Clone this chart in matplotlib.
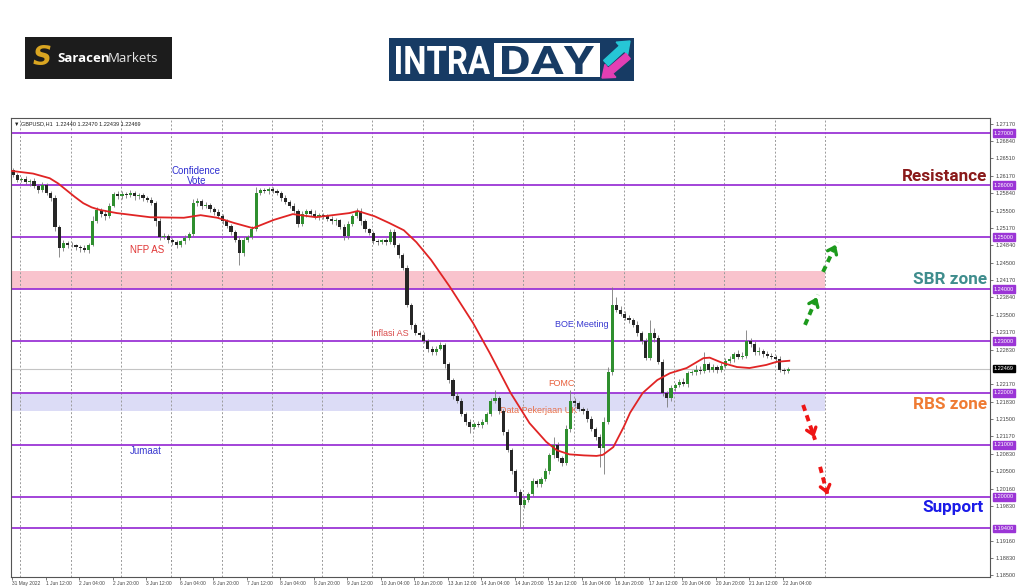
import matplotlib.pyplot as plt
import matplotlib.transforms as mtransforms
from matplotlib.patches import Rectangle, FancyArrow, PathPatch
from matplotlib.textpath import TextPath
from matplotlib.font_manager import FontProperties
import numpy as np

plt.rcParams['font.family'] = 'Liberation Sans'

# ---------------- data (GBPUSD H1, drawn as 2-hour candles) ----------------
first_open = 1.2628
closes = [
    1.2620, 1.2610,
    1.2612, 1.2605, 1.2608, 1.2598, 1.2590, 1.2600, 1.2585, 1.2575, 1.2520, 1.2478, 1.2488, 1.2485,
    1.2484, 1.2480, 1.2478, 1.2475, 1.2485, 1.2530, 1.2552, 1.2545, 1.2540, 1.2560, 1.2582, 1.2578,
    1.2583, 1.2580, 1.2585, 1.2578, 1.2580, 1.2575, 1.2572, 1.2565, 1.2530, 1.2500, 1.2502, 1.2495,
    1.2490, 1.2485, 1.2492, 1.2498, 1.2505, 1.2565, 1.2570, 1.2560, 1.2562, 1.2553, 1.2548, 1.2540,
    1.2530, 1.2522, 1.2510, 1.2495, 1.2470, 1.2495, 1.2500, 1.2515, 1.2585, 1.2590, 1.2588, 1.2592,
    1.2588, 1.2585, 1.2575, 1.2568, 1.2560, 1.2550, 1.2525, 1.2545, 1.2550, 1.2545, 1.2538, 1.2542,
    1.2540, 1.2535, 1.2530, 1.2532, 1.2520, 1.2502, 1.2525, 1.2540, 1.2550, 1.2530, 1.2515, 1.2508,
    1.2492, 1.2490, 1.2494, 1.2490, 1.2510, 1.2485, 1.2465, 1.2440, 1.2370, 1.2330, 1.2315, 1.2312,
    1.2300, 1.2285, 1.2278, 1.2285, 1.2292, 1.2255, 1.2225, 1.2195, 1.2185, 1.2160, 1.2145, 1.2135,
    1.2140, 1.2138, 1.2145, 1.2160, 1.2185, 1.2190, 1.2165, 1.2125, 1.2090, 1.2050, 1.2010, 1.1985,
    1.1995, 1.2005, 1.2030, 1.2025, 1.2035, 1.2050, 1.2080, 1.2100, 1.2075, 1.2065, 1.2130, 1.2185,
    1.2180, 1.2170, 1.2165, 1.2150, 1.2130, 1.2115, 1.2095, 1.2145, 1.2240, 1.2370, 1.2360, 1.2352,
    1.2345, 1.2340, 1.2330, 1.2315, 1.2300, 1.2268, 1.2315, 1.2305, 1.2260, 1.2200, 1.2190, 1.2210,
    1.2215, 1.2222, 1.2218, 1.2238, 1.2240, 1.2245, 1.2242, 1.2255, 1.2245, 1.2250, 1.2245, 1.2252,
    1.2262, 1.2265, 1.2275, 1.2270, 1.2272, 1.2300, 1.2295, 1.2278, 1.2280, 1.2275, 1.2272, 1.2270,
    1.2265, 1.2245, 1.2242, 1.22469,
]
# wick lengths in pips above / below the body
wick_up = [
    5, 4,
    4, 6, 3, 5, 4, 6, 3, 4, 5, 4, 6, 4,
    5, 3, 4, 6, 4, 10, 5, 4, 6, 5, 4, 6,
    5, 4, 6, 3, 5, 4, 3, 5, 4, 6, 5, 4,
    4, 5, 3, 6, 4, 8, 5, 4, 6, 3, 4, 5,
    4, 5, 3, 4, 6, 5, 4, 6, 11, 4, 5, 4,
    5, 4, 3, 5, 4, 6, 4, 5, 3, 4, 6, 4,
    4, 5, 6, 4, 3, 5, 6, 4, 6, 5, 4, 3,
    4, 5, 3, 4, 5, 6, 4, 5, 6, 4, 5, 4,
    5, 4, 6, 5, 6, 4, 5, 4, 6, 5, 4, 5,
    4, 6, 5, 4, 6, 16, 5, 4, 6, 5, 4, 6,
    5, 4, 6, 5, 4, 6, 5, 15, 6, 4, 8, 21,
    6, 5, 4, 6, 5, 4, 6, 8, 10, 34, 15, 8,
    6, 5, 4, 8, 5, 6, 25, 10, 6, 5, 4, 6,
    5, 4, 6, 5, 4, 8, 6, 24, 5, 6, 4, 5,
    5, 6, 4, 8, 6, 21, 6, 5, 8, 4, 6, 5,
    4, 6, 4, 3,
]
wick_dn = [
    4, 5,
    5, 4, 6, 4, 5, 3, 4, 5, 8, 16, 5, 6,
    4, 5, 6, 4, 5, 3, 4, 6, 8, 4, 3, 5,
    4, 5, 3, 6, 4, 5, 4, 3, 8, 5, 4, 6,
    5, 7, 4, 5, 3, 4, 5, 6, 4, 5, 6, 4,
    5, 4, 6, 5, 24, 6, 5, 4, 3, 5, 4, 6,
    4, 5, 6, 4, 5, 4, 5, 4, 6, 5, 4, 6,
    5, 4, 5, 6, 4, 7, 5, 3, 4, 6, 5, 4,
    5, 6, 4, 5, 3, 5, 6, 4, 5, 6, 4, 5,
    4, 6, 5, 4, 3, 6, 5, 6, 4, 5, 6, 12,
    5, 4, 6, 5, 4, 5, 6, 5, 4, 6, 8, 45,
    6, 5, 4, 6, 5, 4, 6, 5, 6, 5, 4, 5,
    5, 4, 6, 5, 4, 6, 37, 50, 5, 6, 5, 4,
    5, 6, 4, 5, 6, 5, 4, 6, 5, 6, 17, 5,
    6, 4, 5, 6, 4, 5, 6, 4, 5, 4, 6, 5,
    4, 5, 6, 4, 5, 4, 6, 5, 4, 6, 5, 4,
    6, 5, 6, 4,
]

# moving average (hour index, price)
ma_hours = [0, 10, 18, 22, 26, 30, 34, 38, 42, 50, 66, 82, 90, 98, 106, 115, 125, 134, 145,
            161, 165, 173, 180, 187, 193, 200, 209, 220, 228, 238, 247, 255, 260, 266, 273,
            279, 282, 287, 292, 295, 301, 308, 314, 322, 330, 333, 339, 346, 352, 360, 365, 371]
ma_prices = [1.2627, 1.2622, 1.2613, 1.2603, 1.2590, 1.2577, 1.2565, 1.2557, 1.2552, 1.2546,
             1.2538, 1.2537, 1.2542, 1.2537, 1.2527, 1.2517, 1.2533, 1.2544, 1.2538, 1.2546,
             1.2550, 1.2540, 1.2527, 1.2513, 1.2490, 1.2456, 1.2404, 1.2335, 1.2277, 1.2200,
             1.2142, 1.2106, 1.2090, 1.2082, 1.2080, 1.2079, 1.2081, 1.2096, 1.2135, 1.2162,
             1.2200, 1.2225, 1.2238, 1.2248, 1.2267, 1.2268, 1.2258, 1.2250, 1.2248, 1.2254,
             1.2260, 1.2262]

levels = [1.2700, 1.2600, 1.2500, 1.2400, 1.2300, 1.2200, 1.2100, 1.2000, 1.1940]
sbr_zone = (1.2400, 1.2435)
rbs_zone = (1.2165, 1.2200)
last_price = 1.22469

price_ticks = [1.27170, 1.26840, 1.26510, 1.26170, 1.25840, 1.25500, 1.25170, 1.24840,
               1.24500, 1.24170, 1.23840, 1.23500, 1.23170, 1.22830, 1.22170, 1.21830,
               1.21500, 1.21170, 1.20830, 1.20500, 1.20160, 1.19830, 1.19160, 1.18830, 1.18500]
time_labels = ['31 May 2022', '1 Jun 12:00', '2 Jun 04:00', '2 Jun 20:00', '3 Jun 12:00',
               '6 Jun 04:00', '6 Jun 20:00', '7 Jun 12:00', '8 Jun 04:00', '8 Jun 20:00',
               '9 Jun 12:00', '10 Jun 04:00', '10 Jun 20:00', '13 Jun 12:00', '14 Jun 04:00',
               '14 Jun 20:00', '15 Jun 12:00', '16 Jun 04:00', '16 Jun 20:00', '17 Jun 12:00',
               '20 Jun 04:00', '20 Jun 20:00', '21 Jun 12:00', '22 Jun 04:00']
time_label_hours = list(range(0, 16 * len(time_labels), 16))
day_start_hours = list(range(4, 389, 24))

# ---------------- figure ----------------
fig = plt.figure(figsize=(10.24, 5.87), dpi=100)
W, H = 1024, 587
pix = mtransforms.IdentityTransform()


def fx(x):
    return x / W


def fy(y):
    return 1 - y / H


def fit_text(s, x0, x1, ytop, ybot, color, family='Roboto', weight='bold'):
    # squeeze a text outline into a pixel box (image coords, y downwards)
    tp = TextPath((0, 0), s, size=40, prop=FontProperties(family=family, weight=weight))
    ext = tp.get_extents()
    sx = (x1 - x0) / ext.width
    sy = (ybot - ytop) / ext.height
    tr = mtransforms.Affine2D().translate(-ext.x0, -ext.y0).scale(sx, sy).translate(x0, H - ybot)
    fig.patches.append(PathPatch(tp, transform=tr, facecolor=color, edgecolor='none'))


# logos
fig.patches.append(Rectangle((fx(25), fy(79)), 147 / W, 42 / H, transform=fig.transFigure,
                             facecolor='#1c1c1c', edgecolor='none'))
fig.text(fx(42), fy(58), 'S', color='#d9a521', fontsize=19, fontweight='bold',
         ha='center', va='center', family='DejaVu Sans', style='italic')
fig.text(fx(57), fy(58), 'Saracen', color='white', fontsize=9.5, fontweight='bold',
         ha='left', va='center', family='Open Sans')
fig.text(fx(108), fy(58), 'Markets', color='#e8e8e8', fontsize=9.5,
         ha='left', va='center', family='Open Sans')

fig.patches.append(Rectangle((fx(389), fy(81)), 245 / W, 43 / H, transform=fig.transFigure,
                             facecolor='#173b64', edgecolor='none'))
fig.patches.append(Rectangle((fx(494), fy(77)), 106 / W, 34 / H, transform=fig.transFigure,
                             facecolor='white', edgecolor='none'))
fit_text('INTRA', 396, 490, 46, 74, 'white')
fit_text('DAY', 502, 594, 46, 74, '#173b64')
fig.patches.append(FancyArrow(606, H - 63, 24, 22, width=7, head_width=17, head_length=11,
                              length_includes_head=True, transform=pix, color='#26c6d6'))
fig.patches.append(FancyArrow(628, H - 56, -26, -22, width=7, head_width=17, head_length=11,
                              length_includes_head=True, transform=pix, color='#e23fb4'))

# chart
ax = fig.add_axes([fx(11), fy(577), 979 / W, 459 / H])
ax.set_xlim(-0.5, 466.8)
ax.set_ylim(1.184615, 1.272885)

for h in day_start_hours:
    ax.axvline(h, color='#9a9a9a', lw=0.7, ls=(0, (2, 2)), zorder=1)

ax.fill_between([-0.5, 388], sbr_zone[0], sbr_zone[1], color='#f9c3cd', lw=0, zorder=0)
ax.fill_between([-0.5, 388], rbs_zone[0], rbs_zone[1], color='#dcdcf6', lw=0, zorder=0)
for lv in levels:
    ax.axhline(lv, color='#9b35d6', lw=1.3, zorder=2)
ax.axhline(last_price, color='#c4c4c4', lw=0.8, zorder=1)

# annotations inside the chart
ax.text(88, 1.2617, 'Confidence\nVote', color='#2f2fd0', fontsize=7, ha='center',
        va='center', linespacing=0.95, zorder=2)
ax.text(64.5, 1.2475, 'NFP AS', color='#e03535', fontsize=7, ha='center', va='center', zorder=2)
ax.text(180.5, 1.2315, 'Inflasi AS', color='#d94a4a', fontsize=6.5, ha='center', va='center', zorder=2)
ax.text(272, 1.2331, 'BOE Meeting', color='#3a3ad0', fontsize=6.5, ha='center', va='center', zorder=2)
ax.text(262, 1.2219, 'FOMC', color='#e8603c', fontsize=6.5, ha='center', va='center', zorder=2)
ax.text(233, 1.2167, 'Data Pekerjaan UK', color='#e8704a', fontsize=6.5, ha='left',
        va='center', zorder=2)
ax.text(64, 1.2088, 'Jumaat', color='#3a3ad0', fontsize=7, ha='center', va='center', zorder=2)

# candles
n = len(closes)
opens = [first_open] + closes[:-1]
xs = np.arange(n) * 2 + 0.5
o = np.array(opens)
c = np.array(closes)
top = np.maximum(o, c)
bot = np.minimum(o, c)
highs = top + np.array(wick_up) / 10000
lows = bot - np.array(wick_dn) / 10000
ax.vlines(xs, lows, highs, color='#7a7a7a', lw=0.6, zorder=3)
body_col = np.where(c >= o, '#2f8f2f', '#262626')
ax.bar(xs, np.maximum(top - bot, 0.00008), bottom=bot, width=1.5, color=body_col,
       lw=0, zorder=4)

ax.plot(ma_hours, ma_prices, color='#e02424', lw=1.3, zorder=5)

# big zone labels
for txt, py, col, xr in [('Resistance', 1.2617, '#8a1a1a', 465.3),
                         ('SBR zone', 1.2419, '#3f8d8d', 465.3),
                         ('RBS zone', 1.2177, '#ef7b33', 465.3),
                         ('Support', 1.1979, '#1b1be8', 463.8)]:
    ax.text(xr, py, txt, color=col, fontsize=12.3, fontweight='bold', ha='right',
            va='center', family='Roboto', zorder=6)

# dashed direction arrows
for (x0, y0), (x1, y1), col in [((378.5, 1.2331), (384.7, 1.2389), '#1c9a1c'),
                                ((387.1, 1.2433), (393.8, 1.2490), '#1c9a1c'),
                                ((377.6, 1.2177), (383.3, 1.2110), '#ee1515'),
                                ((385.7, 1.2058), (389.5, 1.2000), '#ee1515')]:
    ax.plot([x0, x1], [y0, y1], color=col, lw=2.8, ls=(0, (1.6, 1.2)), zorder=6,
            solid_capstyle='butt')
    ax.annotate('', xy=(x1, y1), xytext=(x0 + (x1 - x0) * 0.7, y0 + (y1 - y0) * 0.7),
                arrowprops=dict(arrowstyle='->,head_width=0.35,head_length=0.45',
                                color=col, lw=2.4), zorder=6)

# header
ax.text(0.003, 0.992, '\u25bc GBPUSD,H1  1.22440 1.22470 1.22439 1.22469', transform=ax.transAxes,
        fontsize=4, ha='left', va='top', color='#222222')

# axes styling
for sp in ax.spines.values():
    sp.set_color('#555555')
    sp.set_linewidth(0.8)
ax.yaxis.tick_right()
ax.set_yticks(price_ticks)
ax.set_yticklabels([f'{p:.5f}' for p in price_ticks])
ax.set_xticks(time_label_hours)
ax.set_xticklabels(time_labels, ha='left')
ax.tick_params(axis='y', labelsize=4, length=2, width=0.5, pad=2, colors='#444444')
ax.tick_params(axis='x', labelsize=3.5, length=2, width=0.5, pad=1, colors='#444444')

lab_tr = mtransforms.blended_transform_factory(ax.transAxes, ax.transData)
for lv in levels:
    ax.text(1.004, lv, f'{lv:.5f}', transform=lab_tr, fontsize=4, color='white', ha='left',
            va='center', bbox=dict(boxstyle='square,pad=0.2', fc='#9b35d6', ec='#9b35d6'))
ax.text(1.004, last_price, f'{last_price:.5f}', transform=lab_tr, fontsize=4, color='white',
        ha='left', va='center', bbox=dict(boxstyle='square,pad=0.2', fc='black', ec='black'))

fig.savefig('out.png', dpi=100)
